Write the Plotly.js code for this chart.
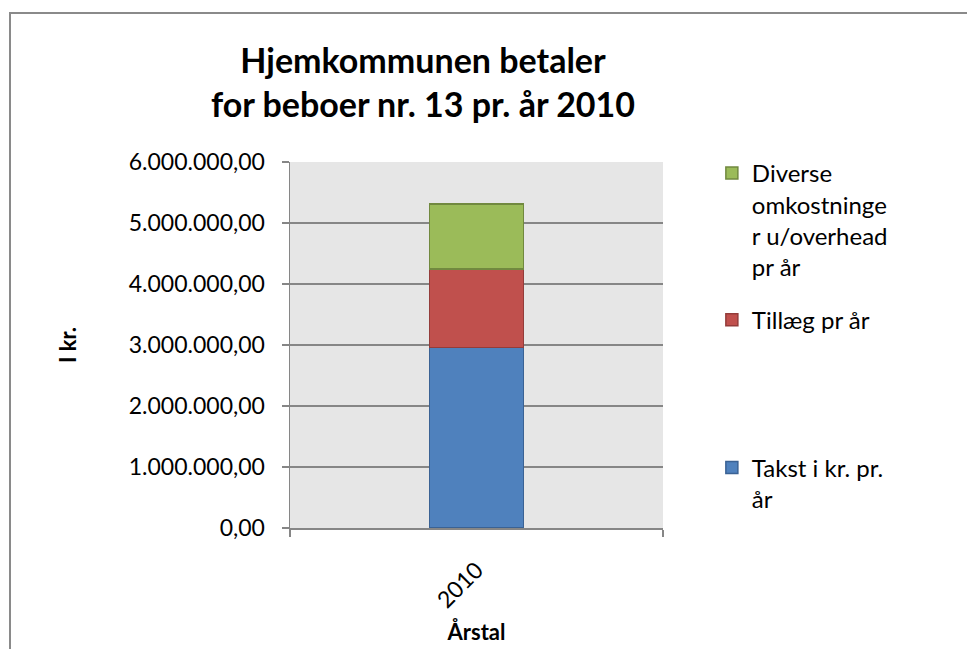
<!DOCTYPE html>
<html>
<head>
<meta charset="utf-8">
<script src="https://cdn.plot.ly/plotly-3.0.1.min.js"></script>
<style>
  html, body { margin: 0; padding: 0; background: #fff; overflow: hidden; }
  #chart { width: 967px; height: 649px; }
  #frame { position: absolute; left: 9px; top: 12px; width: 1200px; height: 1200px;
           border-top: 2px solid #8a8a8a; border-left: 2px solid #8a8a8a; pointer-events: none; }
</style>
</head>
<body>
<div id="chart"></div>
<div id="frame"></div>
<script>
const categories = ["2010"];
const takst = [2960000];
const tillaeg = [1290000];
const diverse = [1060000];
const seriesNames = ["Takst i kr. pr.<br>år", "Tillæg pr år", "Diverse<br>omkostninge<br>r u/overhead<br>pr år"];
const yTicks = [0, 1000000, 2000000, 3000000, 4000000, 5000000, 6000000];

const FONT = "Lato, 'Open Sans', sans-serif";

const traces = [
  { type: "bar", x: categories, y: takst, name: seriesNames[0], legend: "legend",
    marker: { color: "#4F81BD", line: { color: "#3A6294", width: 1.5 } }, width: 0.252 },
  { type: "bar", x: categories, y: tillaeg, name: seriesNames[1], legend: "legend2",
    marker: { color: "#C0504D", line: { color: "#943C3A", width: 1.5 } }, width: 0.252 },
  { type: "bar", x: categories, y: diverse, name: seriesNames[2], legend: "legend3",
    marker: { color: "#9BBB59", line: { color: "#71893F", width: 1.5 } }, width: 0.252 }
];

const legendBase = { xref: "paper", yref: "paper", x: 1.131, xanchor: "left", valign: "top",
  font: { family: FONT, size: 24, color: "#000" }, bgcolor: "rgba(0,0,0,0)", borderwidth: 0 };

const layout = {
  width: 967, height: 649,
  margin: { l: 290, r: 304, t: 162, b: 121, autoexpand: false },
  paper_bgcolor: "#ffffff",
  plot_bgcolor: "#e6e6e6",
  separators: ",.",
  barmode: "stack",
  font: { family: FONT, color: "#000" },
  title: {
    text: "<b>Hjemkommunen betaler<br>for beboer nr. 13 pr. år 2010</b>",
    font: { family: FONT, size: 34, color: "#000" },
    xref: "container", x: 423 / 967, xanchor: "center",
    yref: "container", y: 1 - 73 / 649, yanchor: "top"
  },
  xaxis: {
    type: "category",
    range: [-0.5, 0.5],
    showgrid: false,
    showline: true, linecolor: "#868686", linewidth: 1.5,
    ticks: "outside", tickson: "boundaries", ticklen: 7, tickcolor: "#868686", tickwidth: 1.5,
    tickangle: -45,
    ticklabelstandoff: 18,
    tickfont: { family: FONT, size: 23, color: "#000" },
    automargin: false,
    title: { text: "<b>Årstal</b>", font: { family: FONT, size: 22, color: "#000" }, standoff: 12 },
    fixedrange: true
  },
  yaxis: {
    range: [0, 6000000],
    tickvals: yTicks,
    tickformat: ",.2f",
    showgrid: true, gridcolor: "#868686", gridwidth: 1.5,
    showline: true, linecolor: "#868686", linewidth: 1.5,
    ticks: "outside", ticklen: 7, tickcolor: "#868686", tickwidth: 1.5,
    ticklabelstandoff: 12,
    tickfont: { family: FONT, size: 23, color: "#000" },
    zeroline: false,
    automargin: false,
    title: { text: "<b>I kr.</b>", font: { family: FONT, size: 22, color: "#000" }, standoff: 46 },
    fixedrange: true
  },
  legend: Object.assign({}, legendBase, { y: 0.122, yanchor: "middle" }),
  legend2: Object.assign({}, legendBase, { y: 0.568, yanchor: "middle" }),
  legend3: Object.assign({}, legendBase, { y: 1.030, yanchor: "top" }),
  showlegend: true
};

Plotly.newPlot("chart", traces, layout, { displayModeBar: false, staticPlot: true });
</script>
</body>
</html>
